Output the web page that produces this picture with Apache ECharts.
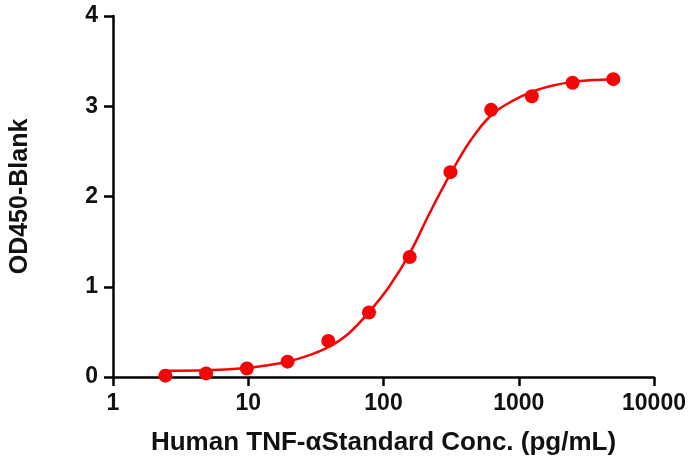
<!DOCTYPE html>
<html>
<head>
    <meta charset="utf-8">
    <title>TNF-a standard curve</title>
    <script src="https://cdn.jsdelivr.net/npm/echarts@6/dist/echarts.min.js"></script>
</head>
<body style="margin:0">
    <div id="main" style="width: 693px;height:461px;"></div>
    <script type="text/javascript">
        // standard points (pg/mL, OD450-Blank)
        var conc = [2.44, 4.88, 9.77, 19.53, 39.06, 78.13, 156.25, 312.5, 625, 1250, 2500, 5000];
        var od = [0.015, 0.04, 0.095, 0.17, 0.40, 0.715, 1.33, 2.27, 2.96, 3.11, 3.26, 3.30];
        // fitted curve
        var curveX = [2.44, 4.88, 9.77, 14, 19.53, 28, 39.06, 55, 78.13, 110, 156.25, 220, 312.5, 440, 625, 900, 1250, 1800, 2500, 3500, 5000];
        var curveY = [0.07, 0.075, 0.10, 0.13, 0.17, 0.24, 0.33, 0.48, 0.72, 1.0, 1.37, 1.82, 2.25, 2.62, 2.90, 3.06, 3.16, 3.23, 3.27, 3.29, 3.30];
        var xTicks = [1, 10, 100, 1000, 10000];

        var pair = function (xs, ys) {
            var res = [];
            for (var i = 0; i < xs.length; i++) {
                res.push([xs[i], ys[i]]);
            }
            return res;
        };

        var red = '#f50505';
        var font = 'Liberation Sans, Arial, sans-serif';
        var myChart = echarts.init(document.getElementById('main'));
        var option = {
            backgroundColor: '#fff',
            animation: false,
            grid: { left: 113, right: 39, top: 16, bottom: 84 },
            xAxis: {
                type: 'log',
                logBase: 10,
                min: xTicks[0],
                max: xTicks[xTicks.length - 1],
                name: 'Human TNF-\u03b1Standard Conc. (pg/mL)',
                nameLocation: 'middle',
                nameGap: 53,
                nameTextStyle: { color: '#111', fontFamily: font, fontWeight: 'bold', fontSize: 26 },
                axisLine: { lineStyle: { color: '#000', width: 2.5 } },
                axisTick: { show: true, length: 9, lineStyle: { color: '#000', width: 2.5 } },
                minorTick: { show: false },
                splitLine: { show: false },
                axisLabel: {
                    color: '#111', fontFamily: font, fontWeight: 'bold', fontSize: 23, margin: 15,
                    formatter: function (v) { return String(v); }
                }
            },
            yAxis: {
                type: 'value',
                min: 0,
                max: 4,
                interval: 1,
                name: 'OD450-Blank',
                nameLocation: 'middle',
                nameGap: 80,
                nameRotate: 90,
                nameTextStyle: { color: '#111', fontFamily: font, fontWeight: 'bold', fontSize: 25 },
                axisLine: { show: true, lineStyle: { color: '#000', width: 2.5 } },
                axisTick: { show: true, length: 9, lineStyle: { color: '#000', width: 2.5 } },
                splitLine: { show: false },
                axisLabel: { color: '#111', fontFamily: font, fontWeight: 'bold', fontSize: 23, margin: 15 }
            },
            series: [{
                name: 'fit',
                type: 'line',
                smooth: 0.4,
                symbol: 'none',
                lineStyle: { color: red, width: 2.5 },
                data: pair(curveX, curveY),
                z: 2
            }, {
                name: 'standard',
                type: 'scatter',
                symbol: 'circle',
                symbolSize: 14,
                itemStyle: { color: red, opacity: 1 },
                data: pair(conc, od),
                z: 3
            }]
        };
        myChart.setOption(option);
    </script>
</body>
</html>
